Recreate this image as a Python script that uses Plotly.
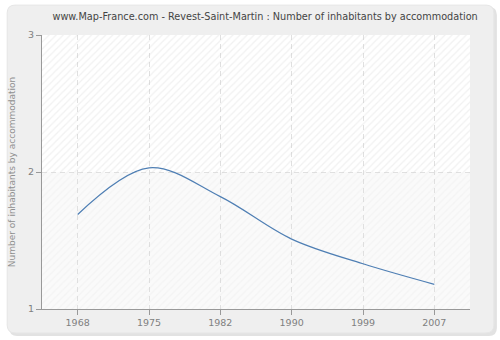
import plotly.graph_objects as go

years = ["1968", "1975", "1982", "1990", "1999", "2007"]
inhabitants_per_home = [1.69, 2.03, 1.82, 1.51, 1.33, 1.18]
y_ticks = [1, 2, 3]

title_text = "www.Map-France.com - Revest-Saint-Martin : Number of inhabitants by accommodation"
y_title = "Number of inhabitants by accommodation"

FONT = "DejaVu Sans"

W, H = 500.0, 340.0
L, R, T, B = 40.0, 30.0, 35.0, 30.0
PW, PH = W - L - R, H - T - B


def px(x):
    return (x - L) / PW


def py(y):
    return (H - B - y) / PH


def rounded(x0, y0, x1, y1, rad):
    return (f"M {px(x0 + rad)},{py(y0)} L {px(x1 - rad)},{py(y0)} "
            f"Q {px(x1)},{py(y0)} {px(x1)},{py(y0 + rad)} L {px(x1)},{py(y1 - rad)} "
            f"Q {px(x1)},{py(y1)} {px(x1 - rad)},{py(y1)} L {px(x0 + rad)},{py(y1)} "
            f"Q {px(x0)},{py(y1)} {px(x0)},{py(y1 - rad)} L {px(x0)},{py(y0 + rad)} "
            f"Q {px(x0)},{py(y0)} {px(x0 + rad)},{py(y0)} Z")


n = len(years)
xs = list(range(n))

fig = go.Figure()

# diagonal hatching of the plot area (stronger in the upper band)
for lo, hi, fg in [(2, 3, "rgba(190,190,190,0.45)"), (1, 2, "rgba(200,200,200,0.25)")]:
    fig.add_trace(go.Bar(
        x=[(n - 1) / 2], y=[hi - lo], base=[lo], width=[n],
        marker=dict(color="rgba(0,0,0,0)", line=dict(width=0),
                    pattern=dict(shape="/", fgcolor=fg, bgcolor="rgba(0,0,0,0)",
                                 size=5, solidity=0.25)),
        hoverinfo="skip",
    ))

fig.add_trace(go.Scatter(
    x=xs,
    y=inhabitants_per_home,
    mode="lines",
    line=dict(color="#4f7fb4", width=1.2, shape="spline", smoothing=1.0),
    hoverinfo="skip",
))

fig.update_layout(
    width=500, height=340,
    margin=dict(l=L, r=R, t=T, b=B),
    paper_bgcolor="#ffffff",
    plot_bgcolor="#fafafa",
    showlegend=False,
    barmode="overlay",
    title=dict(text=title_text, x=px(268), xanchor="center", y=1 - 17 / H, yanchor="middle",
               font=dict(family=FONT, size=9.7, color="#444444")),
    shapes=[
        dict(type="path", xref="paper", yref="paper", layer="below",
             path=rounded(7, 7, 497, 337, 8), fillcolor="#e2e2e2", line=dict(width=0)),
        dict(type="path", xref="paper", yref="paper", layer="below",
             path=rounded(5, 5, 494, 334, 8), fillcolor="#efefef",
             line=dict(color="#e6e6e6", width=1)),
        dict(type="rect", xref="paper", yref="paper", layer="below",
             x0=0, x1=1, y0=0, y1=0.5, fillcolor="#fafafa", line=dict(width=0)),
        dict(type="rect", xref="paper", yref="paper", layer="below",
             x0=0, x1=1, y0=0.5, y1=1, fillcolor="#ffffff", line=dict(width=0)),
    ],
)

fig.update_xaxes(
    range=[-0.5, n - 0.5],
    tickmode="array", tickvals=xs, ticktext=years,
    showgrid=True, gridcolor="#e0e0e0", griddash="5px,4px", gridwidth=1,
    showline=True, linecolor="#999999", linewidth=1,
    ticks="outside", ticklen=5, tickcolor="#999999",
    tickfont=dict(family=FONT, size=9.5, color="#808080"),
    zeroline=False, fixedrange=True,
)
fig.update_yaxes(
    range=[1, 3], tickvals=y_ticks, ticktext=[str(v) for v in y_ticks],
    showgrid=True, gridcolor="#e0e0e0", griddash="5px,4px", gridwidth=1,
    showline=True, linecolor="#999999", linewidth=1,
    ticks="outside", ticklen=5, tickcolor="#999999",
    tickfont=dict(family=FONT, size=9.5, color="#808080"),
    title=dict(text=y_title, standoff=10, font=dict(family=FONT, size=9, color="#909090")),
    zeroline=False, fixedrange=True,
)

fig.write_html("out.html", config={"displayModeBar": False})
